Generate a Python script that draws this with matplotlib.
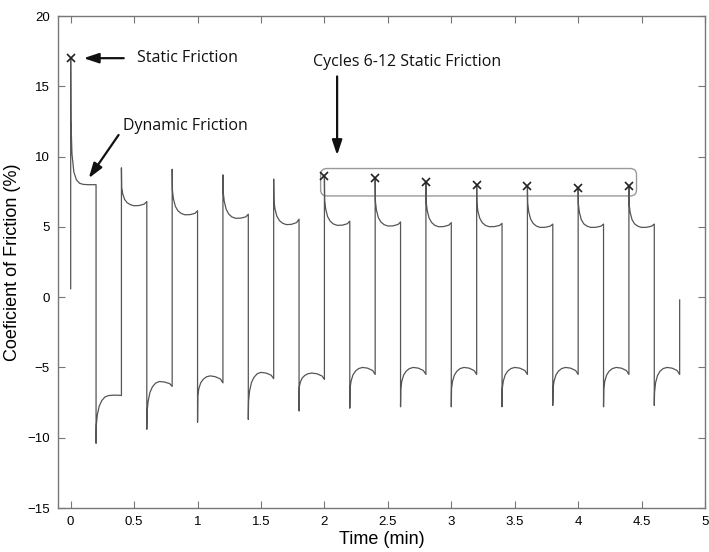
import matplotlib.pyplot as plt
from matplotlib.patches import FancyBboxPatch

# time offsets (min) of the samples read inside each 0.2 min half cycle
half_offsets = [0, 0.002, 0.01, 0.025, 0.045, 0.07, 0.1, 0.14, 0.18, 0.2]
half_period = 0.2

# positive half cycles (start at 0, 0.4, ... 4.4)
pos_halves = [
    [17.0, 12.6, 10.2, 8.9, 8.35, 8.1, 8.02, 8.0, 8.0, 8.0],
    [9.2, 7.8, 7.35, 6.95, 6.72, 6.58, 6.5, 6.52, 6.62, 6.8],
    [9.1, 7.6, 6.99, 6.46, 6.15, 5.96, 5.86, 5.87, 5.96, 6.15],
    [8.7, 7.5, 6.84, 6.27, 5.92, 5.71, 5.61, 5.62, 5.71, 5.9],
    [8.4, 6.9, 6.29, 5.76, 5.45, 5.26, 5.16, 5.18, 5.3, 5.55],
    [8.6, 6.9, 6.27, 5.73, 5.41, 5.21, 5.11, 5.12, 5.22, 5.4],
    [8.45, 6.8, 6.19, 5.66, 5.35, 5.16, 5.06, 5.07, 5.17, 5.35],
    [8.2, 6.8, 6.17, 5.63, 5.31, 5.11, 5.01, 5.02, 5.12, 5.3],
    [8.0, 6.7, 6.1, 5.6, 5.29, 5.1, 5.01, 5.02, 5.1, 5.25],
    [7.9, 6.7, 6.09, 5.56, 5.25, 5.06, 4.96, 4.97, 5.05, 5.2],
    [7.8, 6.6, 6.02, 5.51, 5.21, 5.05, 4.96, 4.97, 5.05, 5.2],
    [7.9, 6.6, 6.02, 5.51, 5.21, 5.05, 4.96, 4.97, 5.05, 5.2],
]

# negative half cycles (start at 0.2, 0.6, ... 4.6)
neg_halves = [
    [-10.4, -9.1, -8.37, -7.75, -7.36, -7.1, -7.0, -6.97, -6.98, -7.0],
    [-9.4, -8.2, -7.43, -6.77, -6.37, -6.11, -6.0, -6.04, -6.15, -6.35],
    [-8.9, -7.0, -6.51, -6.09, -5.84, -5.67, -5.6, -5.66, -5.82, -6.1],
    [-8.7, -7.4, -6.68, -6.07, -5.7, -5.45, -5.35, -5.4, -5.55, -5.8],
    [-8.1, -6.4, -6.05, -5.75, -5.57, -5.45, -5.4, -5.45, -5.6, -5.85],
    [-7.9, -6.5, -5.98, -5.53, -5.26, -5.08, -5.0, -5.05, -5.22, -5.5],
    [-7.8, -6.5, -5.98, -5.53, -5.26, -5.08, -5.0, -5.05, -5.22, -5.5],
    [-7.8, -6.5, -5.98, -5.53, -5.26, -5.08, -5.0, -5.05, -5.22, -5.5],
    [-7.8, -6.5, -5.98, -5.53, -5.26, -5.08, -5.0, -5.05, -5.22, -5.5],
    [-7.7, -6.5, -5.98, -5.53, -5.26, -5.08, -5.0, -5.05, -5.22, -5.5],
    [-7.8, -6.5, -5.98, -5.53, -5.26, -5.08, -5.0, -5.05, -5.22, -5.5],
    [-7.7, -6.8, -6.1, -5.58, -5.27, -5.08, -5.0, -5.05, -5.22, -5.5],
]

start_value = 0.6   # value before the first spike at t = 0
end_time, end_value = 4.8, -0.2

static_cycles = [1, 6, 7, 8, 9, 10, 11, 12]   # cycles marked with x

# build the trace
t = [0.0]
y = [start_value]
for i in range(len(pos_halves)):
    t0 = 2 * i * half_period
    for dt, v in zip(half_offsets, pos_halves[i]):
        t.append(t0 + dt)
        y.append(v)
    t1 = t0 + half_period
    for dt, v in zip(half_offsets, neg_halves[i]):
        t.append(t1 + dt)
        y.append(v)
t.append(end_time)
y.append(end_value)

fig = plt.figure(figsize=(7.09, 5.52), dpi=100)
ax = fig.add_axes([0.0818, 0.0797, 0.9126, 0.8913])

ax.plot(t, y, color='#555555', lw=0.9)

mx = [2 * (c - 1) * half_period for c in static_cycles]
my = [pos_halves[c - 1][0] for c in static_cycles]
ax.plot(mx, my, 'x', color='#222222', ms=6, mew=1.2)

ax.set_xlim(-0.1, 5)
ax.set_ylim(-15, 20)
ax.set_xticks([0, 0.5, 1, 1.5, 2, 2.5, 3, 3.5, 4, 4.5, 5])
ax.set_xticklabels(['0', '0.5', '1', '1.5', '2', '2.5', '3', '3.5', '4', '4.5', '5'])
ax.set_yticks([-15, -10, -5, 0, 5, 10, 15, 20])
ax.tick_params(direction='in', top=True, right=True, length=5, width=0.8,
               color='#777777', labelsize=9.5, pad=6)
for lab in ax.get_xticklabels() + ax.get_yticklabels():
    lab.set_family('Liberation Sans')
for s in ax.spines.values():
    s.set_color('#777777')
    s.set_linewidth(1)

ax.set_xlabel('Time (min)', fontsize=13, family='Liberation Sans', labelpad=2)
ax.set_ylabel('Coeficient of Friction (%)', fontsize=13, family='Liberation Sans', labelpad=4)

afont = dict(family='Open Sans', fontsize=11.5, color='#111111')
arw = dict(arrowstyle='-|>,head_length=0.9,head_width=0.3', color='#111111', lw=1.6)

ax.text(0.52, 17.0, 'Static Friction', va='center', ha='left', **afont)
ax.annotate('', xy=(0.08, 17.0), xytext=(0.44, 17.0), arrowprops=arw)

ax.text(0.41, 12.2, 'Dynamic Friction', va='center', ha='left', **afont)
ax.annotate('', xy=(0.13, 8.3), xytext=(0.39, 11.7), arrowprops=arw)

ax.text(1.91, 16.7, 'Cycles 6-12 Static Friction', va='center', ha='left', **afont)
ax.annotate('', xy=(2.1, 9.9), xytext=(2.1, 15.9), arrowprops=arw)

box = FancyBboxPatch((1.97, 7.2), 2.49, 1.95, boxstyle='round,pad=0,rounding_size=0.05',
                     fc='none', ec='#999999', lw=1.0, mutation_aspect=9.0)
ax.add_patch(box)

fig.savefig('out.png', dpi=100)
